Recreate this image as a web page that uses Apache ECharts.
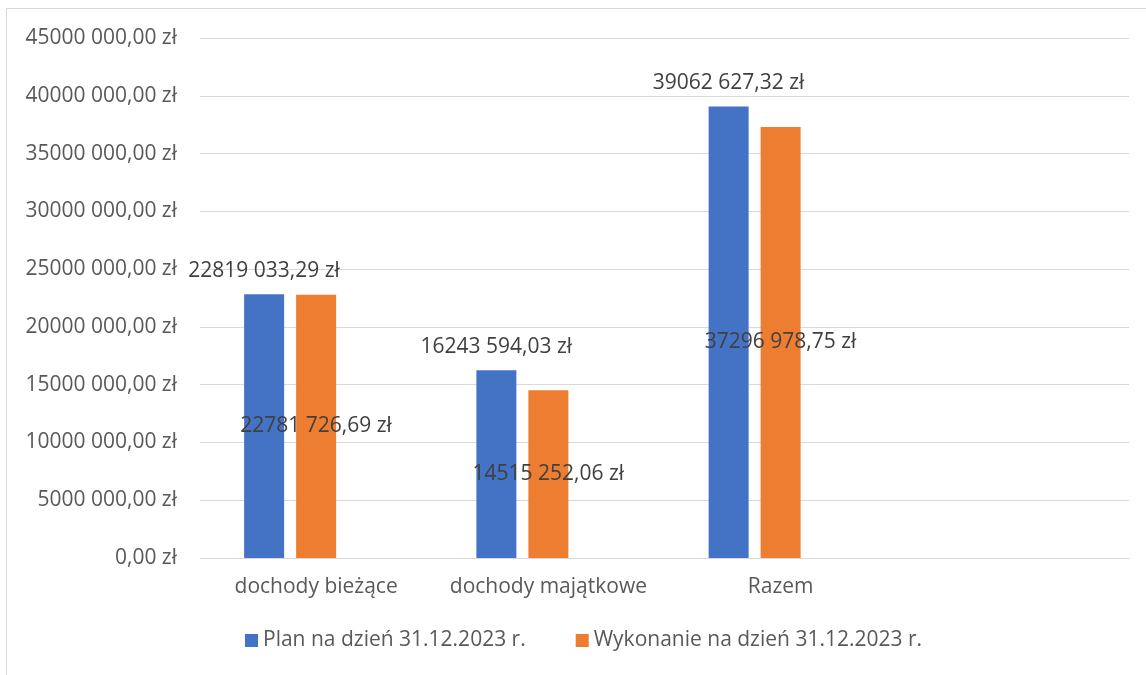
<!DOCTYPE html>
<html>
<head>
<meta charset="utf-8">
<script src="https://cdn.jsdelivr.net/npm/echarts@6/dist/echarts.min.js"></script>
<style>
  html, body { margin: 0; padding: 0; background: #fff; }
  #chart { width: 1146px; height: 675px; }
</style>
</head>
<body>
<div id="chart"></div>
<script>
const categories = ['dochody bieżące', 'dochody majątkowe', 'Razem', '']
const planName = 'Plan na dzień 31.12.2023 r.'
const wykName = 'Wykonanie na dzień 31.12.2023 r.'
const plan = [22819033.29, 16243594.03, 39062627.32, '-']
const wykonanie = [22781726.69, 14515252.06, 37296978.75, '-']
const empty = ['-', '-', '-', '-']

function fmt (v) {
  const parts = Number(v).toFixed(2).split('.')
  let i = parts[0]
  if (i.length > 3) i = i.slice(0, -3) + ' ' + i.slice(-3)
  return i + ',' + parts[1] + ' zł'
}

const font = 'Open Sans'
const fs = 21
const chart = echarts.init(document.getElementById('chart'), null, { renderer: 'canvas' })

chart.setOption({
  animation: false,
  textStyle: { fontFamily: font },
  graphic: [{
    type: 'rect',
    shape: { x: 6.5, y: 8.5, width: 1160, height: 700 },
    style: { fill: 'none', stroke: '#d9d9d9', lineWidth: 1 },
    z: -1
  }],
  legend: {
    data: [planName, wykName],
    bottom: 19,
    left: 240,
    icon: 'rect',
    itemWidth: 13,
    itemHeight: 13,
    itemGap: 50,
    textStyle: { color: '#595959', fontSize: fs, fontFamily: font }
  },
  grid: {
    left: 200,
    right: 17,
    top: 38,
    bottom: 117,
    containLabel: false
  },
  xAxis: {
    type: 'category',
    data: categories,
    axisLine: { lineStyle: { color: '#d9d9d9', width: 1 } },
    axisTick: { show: false },
    axisLabel: { color: '#595959', fontSize: fs, margin: 19, fontFamily: font, interval: 0, hideOverlap: false }
  },
  yAxis: {
    type: 'value',
    min: 0,
    max: 45000000,
    interval: 5000000,
    axisLine: { show: false },
    axisTick: { show: false },
    splitLine: { lineStyle: { color: '#d9d9d9', width: 1 } },
    axisLabel: {
      color: '#595959',
      fontSize: fs,
      margin: 23,
      fontFamily: font,
      formatter: fmt
    }
  },
  series: [{
    name: planName,
    type: 'bar',
    barWidth: 40,
    barGap: '30%',
    itemStyle: { color: '#4472c4' },
    label: {
      show: true,
      position: 'top',
      distance: 13,
      color: '#404040',
      fontSize: fs,
      fontFamily: font,
      formatter: p => fmt(p.value)
    },
    data: plan
  }, {
    name: wykName,
    type: 'bar',
    barWidth: 40,
    barGap: '30%',
    itemStyle: { color: '#ed7d31' },
    label: {
      show: true,
      position: 'inside',
      color: '#404040',
      fontSize: fs,
      fontFamily: font,
      formatter: p => fmt(p.value)
    },
    data: wykonanie
  }, {
    name: 'pusta',
    type: 'bar',
    barWidth: 40,
    barGap: '30%',
    itemStyle: { color: '#a5a5a5' },
    data: empty
  }]
})
</script>
</body>
</html>
